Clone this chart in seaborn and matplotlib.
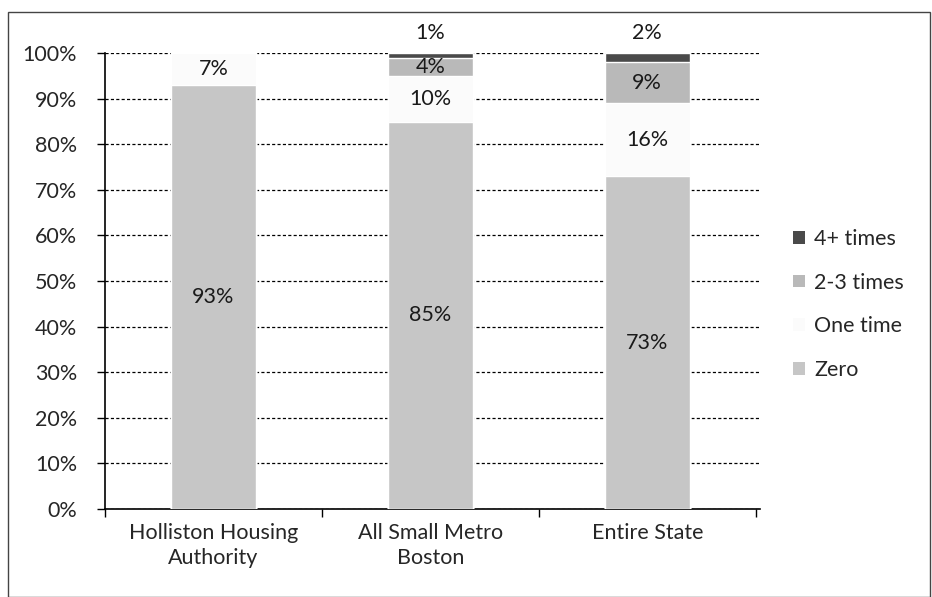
import numpy as np
import pandas as pd
import matplotlib
matplotlib.use("Agg")
import matplotlib.pyplot as plt
import seaborn as sns
from matplotlib.patches import Patch, Rectangle

# ==================== 数据 ====================
groups = ["Holliston Housing\nAuthority", "All Small Metro\nBoston", "Entire State"]
zero = [93, 85, 73]
one_time = [7, 10, 16]
two_three = [0, 4, 9]
four_plus = [0, 1, 2]

series_names = ["Zero", "One time", "2-3 times", "4+ times"]
series_vals = [zero, one_time, two_three, four_plus]
colors = ["#c6c6c6", "#fbfbfb", "#b9b9b9", "#4a4a4a"]

sns.set_theme(style="white")
plt.rcParams["font.family"] = ["Lato", "DejaVu Sans"]

fig = plt.figure(figsize=(9.32, 5.97), dpi=100)
ax = fig.add_axes([0.1127, 0.1474, 0.7028, 0.7636])

# 外框
fig.patches.append(Rectangle((8 / 932, 0), 1 - 8 / 932 - 0.002, 1 - 12 / 597,
                             transform=fig.transFigure, fill=False,
                             edgecolor="#444444", linewidth=1.0))

# 堆叠：从最上层（累计最大）往下画
df = pd.DataFrame({"group": groups})
cum = np.zeros(len(groups))
tops = []
for vals in series_vals:
    cum = cum + np.array(vals)
    tops.append(cum.copy())

for name, top, col in reversed(list(zip(series_names, tops, colors))):
    df["v"] = top
    sns.barplot(data=df, x="group", y="v", color=col, width=0.39,
                saturation=1, ax=ax, zorder=3)

# 数据标签
bottoms = [np.zeros(3)] + tops[:-1]
for i in range(len(groups)):
    for s, vals in enumerate(series_vals):
        v = vals[i]
        if v == 0:
            continue
        if s == 3:
            y = 104.5
        else:
            y = bottoms[s][i] + v / 2
        ax.text(i, y, f"{v}%", ha="center", va="center", fontsize=15.5,
                color="#1a1a1a", zorder=5, clip_on=False)

ax.set_ylim(0, 100)
ax.set_xlim(-0.5, 2.52)
ax.set_yticks(np.arange(0, 101, 10))
ax.set_yticklabels([f"{t}%" for t in range(0, 101, 10)], fontsize=15.5)
ax.set_xlabel("")
ax.set_ylabel("")
ax.tick_params(axis="x", labelsize=15.5, length=0, pad=10)
ax.tick_params(axis="y", length=6, width=1, color="black", left=True, pad=14)
ax.set_xticks([-0.5, 0.5, 1.5, 2.5], minor=True)
ax.tick_params(axis="x", which="minor", length=6, width=1, color="black", bottom=True)
for lab in ax.get_xticklabels():
    lab.set_linespacing(1.3)

ax.grid(axis="y", linestyle=(0, (2.5, 1.8)), color="black", linewidth=0.9, zorder=1)
ax.set_axisbelow(True)
for side in ["top", "right"]:
    ax.spines[side].set_visible(False)
ax.spines["left"].set_color("black")
ax.spines["bottom"].set_color("black")
ax.spines["left"].set_linewidth(1.2)
ax.spines["bottom"].set_linewidth(1.2)

handles = [Patch(facecolor=c, edgecolor="none") for c in colors]
leg = fig.legend(handles[::-1], series_names[::-1], loc="center left",
                 bbox_to_anchor=(0.83, 0.49), frameon=False, fontsize=15.5,
                 handlelength=0.55, handleheight=0.55, handletextpad=0.45,
                 labelspacing=1.1)

fig.savefig("out.png", dpi=100)
